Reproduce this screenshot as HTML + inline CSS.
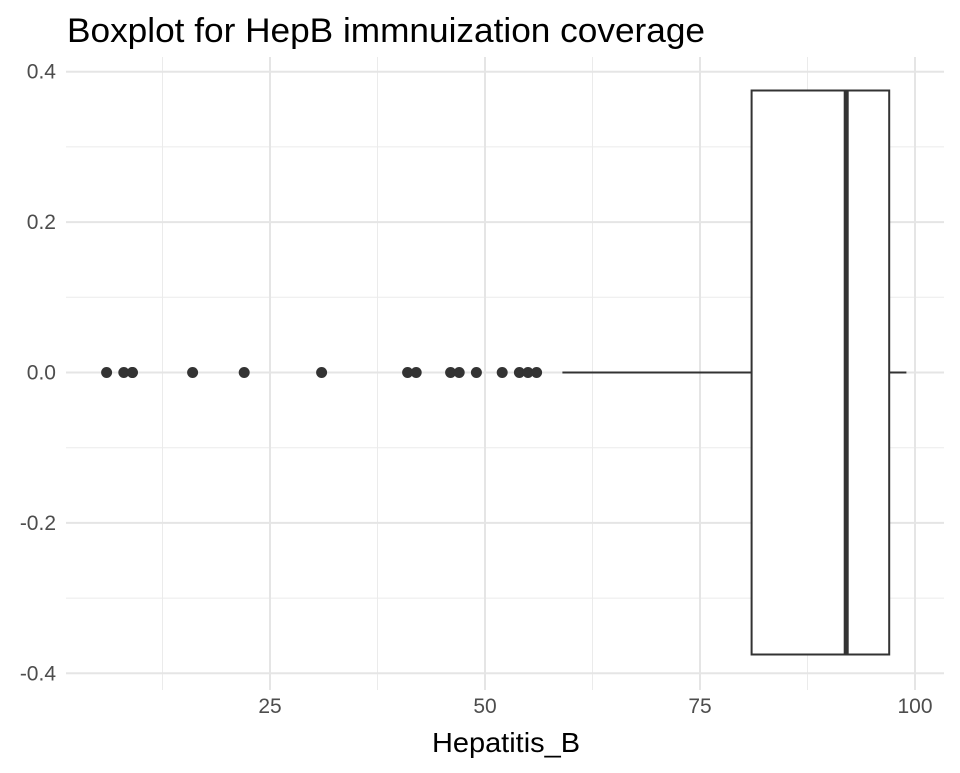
<!DOCTYPE html>
<html><head><meta charset="utf-8"><style>
body{margin:0;background:#fff;font-family:"Liberation Sans",sans-serif}
</style></head><body>
<svg id="chart" width="960" height="768" xmlns="http://www.w3.org/2000/svg">
<text x="67" y="42" font-size="34" textLength="638" lengthAdjust="spacingAndGlyphs" fill="#000">Boxplot for HepB immnuization coverage</text>
<g id="grid"></g><g id="marks"></g><g id="axes"></g>
<text x="506" y="752" font-size="28" textLength="148" lengthAdjust="spacingAndGlyphs" text-anchor="middle" fill="#000">Hepatitis_B</text>
</svg>
<script>
const outliers=[6,8,9,9,16,22,31,41,42,46,47,49,52,54,55,56];
const boxStats=[59,81,92,97,99];
const xTicks=[25,50,75,100];
const yTicks=[-0.4,-0.2,0,0.2,0.4];
const NS="http://www.w3.org/2000/svg";
const px0=66,px1=944,py0=57,py1=690;
function sx(v){return 55+v*8.6;}
function sy(v){return 372.5-v*752;}
function mk(g,t,a){const e=document.createElementNS(NS,t);for(const k in a)e.setAttribute(k,a[k]);document.getElementById(g).appendChild(e);return e;}
for(let i=0;i<xTicks.length;i++){let l=mk('grid','line',{x1:sx(xTicks[i]-12.5),x2:sx(xTicks[i]-12.5),y1:py0,y2:py1,stroke:'#ebebeb','stroke-width':1});

}
for(let i=0;i<yTicks.length-1;i++){let v=(yTicks[i]+yTicks[i+1])/2;let l=mk('grid','line',{x1:px0,x2:px1,y1:sy(v),y2:sy(v),stroke:'#ebebeb','stroke-width':1});

}
xTicks.forEach(v=>{let l=mk('grid','line',{x1:sx(v),x2:sx(v),y1:py0,y2:py1,stroke:'#e5e5e5','stroke-width':2});


let t=mk('axes','text',{x:sx(v),y:713,'font-size':21,'text-anchor':'middle',fill:'#4d4d4d'});t.textContent=v;

});
yTicks.forEach(v=>{let l=mk('grid','line',{x1:px0,x2:px1,y1:sy(v),y2:sy(v),stroke:'#e5e5e5','stroke-width':2});


let t=mk('axes','text',{x:56,y:sy(v)+7,'font-size':21,'text-anchor':'end',fill:'#4d4d4d'});t.textContent=v===0?'0.0':v.toFixed(1);

});
const ytop=sy(0.375),ybot=sy(-0.375),yc=sy(0);
let w1=mk('marks','line',{x1:sx(boxStats[0]),x2:sx(boxStats[1]),y1:yc,y2:yc,stroke:'#333','stroke-width':2});


let w2=mk('marks','line',{x1:sx(boxStats[3]),x2:sx(boxStats[4]),y1:yc,y2:yc,stroke:'#333','stroke-width':2});


let bx=mk('marks','rect',{x:sx(boxStats[1]),y:ytop,width:sx(boxStats[3])-sx(boxStats[1]),height:ybot-ytop,fill:'#fff',stroke:'#333','stroke-width':2});


let md=mk('marks','line',{x1:sx(boxStats[2]),x2:sx(boxStats[2]),y1:ytop,y2:ybot,stroke:'#333','stroke-width':5});


outliers.forEach(v=>{let c=mk('marks','circle',{cx:sx(v),cy:yc,r:5.5,fill:'#333'});

});
</script>
</body></html>
